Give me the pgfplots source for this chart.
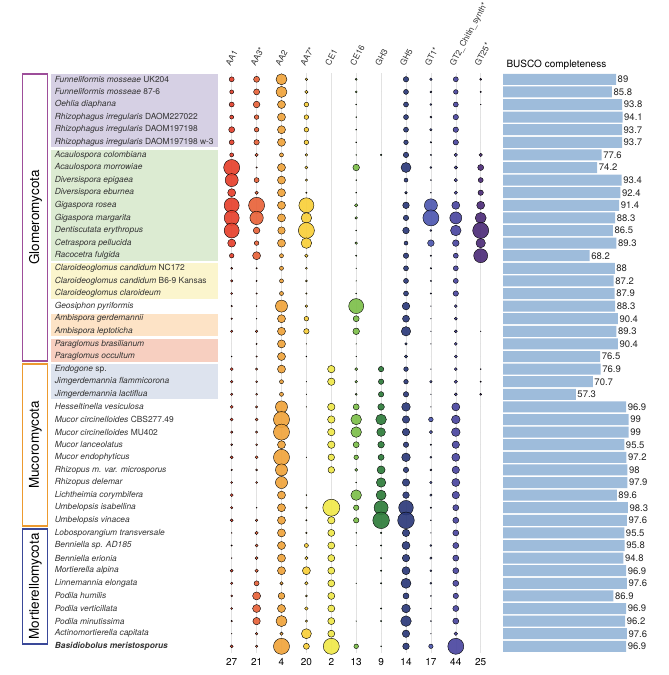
\documentclass[border=0pt]{standalone}
\usepackage{fontspec}
\setmainfont{TeX Gyre Heros}
\usepackage{pgfplots}
\pgfplotsset{compat=1.18}
\usepackage{pgfplotstable}

\definecolor{cA}{HTML}{E6412D}
\definecolor{cB}{HTML}{E8633A}
\definecolor{cC}{HTML}{F0A43C}
\definecolor{cD}{HTML}{F8CF3A}
\definecolor{cE}{HTML}{F0E84A}
\definecolor{cF}{HTML}{7DBF4A}
\definecolor{cG}{HTML}{2F7D3B}
\definecolor{cH}{HTML}{2C3A7A}
\definecolor{cI}{HTML}{4E58B0}
\definecolor{cJ}{HTML}{4B47A0}
\definecolor{cK}{HTML}{4D2C78}
\definecolor{bgpurple}{HTML}{D6D0E4}
\definecolor{bggreen}{HTML}{DCEBD2}
\definecolor{bgyellow}{HTML}{FBF5CD}
\definecolor{bgorange}{HTML}{FDE3C6}
\definecolor{bgsalmon}{HTML}{F7CFC0}
\definecolor{bgblue}{HTML}{DDE3EE}
\definecolor{phpurple}{HTML}{9D4E9A}
\definecolor{phorange}{HTML}{EC9A2F}
\definecolor{phnavy}{HTML}{3A4898}
\definecolor{buscoblue}{HTML}{9EBCDB}
\definecolor{namegray}{HTML}{333333}
\definecolor{gridgray}{HTML}{E2E2E2}

\pgfplotstableread{
row c1 c2 c3 c4 c5 c6 c7 c8 c9 c10 c11
1 2.5 3 5.5 1.3 0 1 0 2.7 1.3 2.5 1
2 2 3 5.5 1.7 0 1 0 2.5 1 2.3 0.7
3 2.5 3.3 4 2.3 0 0.5 0 2.5 1 2.5 0.4
4 2 2.3 4 2.3 0 0.5 0 2.5 1 2.7 0
5 3 2.3 4 2.3 0 0.5 0 2.5 1.2 2.7 0
6 2.5 2.7 4 2.3 0 0.5 0 2.3 0.8 2.7 0
7 2 1.7 2 1.3 0 0.4 0.8 2.7 0.7 1.7 1.7
8 8 0.7 4 1.5 0 3.3 0 5 1 1.7 3
9 6.5 2.5 4 1.2 0 0.5 0 2 0.5 1.7 2.5
10 4 1.7 4 0.7 0 0.5 0 1.3 0.5 1.7 2.7
11 7.5 8 4 7.5 0 1.7 0 3.3 6.5 4 4
12 7.5 6.7 4 5.3 0 1.3 0 2.7 8 6 5.5
13 7.5 3.3 3.7 8 0 0.5 0 3.3 1 5.3 8
14 4 2.3 4 5.3 0 1.3 0 2 3.3 3.3 4.7
15 2.3 4 2 1.7 0 0.7 0 2.7 0.7 2.5 7
16 1 0.7 2 1 0 0.3 0 2.5 0.8 2.5 0
17 1.2 0.7 2 1 0 0.3 0 2.5 0.7 2.5 0
18 1 0.7 2 0.8 0 0.5 0 2.5 0.7 2.7 0
19 0.8 0.5 6 1.3 0 7.5 0 3.8 0.3 1.5 0
20 0.8 0.4 4 2.3 0 3 0 3.5 0.3 1.5 0
21 1.2 1.3 4 2.7 0 3.3 0 4.7 0.3 1.5 0.3
22 0 0.7 4 0.3 0 0.3 0 1.3 0.3 1.5 0
23 0.5 0.7 4 0.5 0 0.3 0 1.7 0 1.5 0
24 1.5 1.2 4 0 3.7 1.5 2.7 2.3 0.3 1.5 0.5
25 1.3 1 2 0.3 3.7 1.3 2.7 2.3 1.3 1.7 0.7
26 1.2 1 2 0.3 0 1 2.7 2.7 0.3 1.5 1
27 1.5 1.2 6 0.3 3.7 3 3.3 4.3 0.3 4 0
28 1.5 1.5 8 0 3.7 5.3 5.3 3.7 2.3 4.3 0
29 1.2 1.2 8 0 3.7 5.3 4.3 3.7 1.7 4.3 0
30 1 1 4 0 3.7 3 3.3 2.7 0.7 3.7 0
31 1.5 1.5 8 0.3 3.3 2.3 3 4.3 1 4 0
32 0.8 1 6 0 3.3 1.5 4 2.7 1 3.7 0
33 1 1 6 0 0 0.5 4.7 3.7 1.2 4 0
34 1.5 0 4 0.5 0 5.3 5 3.3 1.2 3.7 0
35 1.2 0.5 4 0.8 8.5 2.7 7 7.3 0.7 3 0
36 1.5 1.3 4 0.7 3.7 2.7 8.3 8.3 0.5 3 0
37 0.4 1.7 4 0.8 3.5 0.5 0.8 3.7 0.3 3 0
38 0.7 1.5 4 2 3.5 0.3 0.7 4 1 3 0
39 0.4 1.5 4 1.7 3.5 0 0.7 3.7 1.2 3 0
40 1.5 1.7 4 4 3.5 0 0.7 4 1 3 0
41 1.2 2.5 1.7 1.7 3.5 0.3 0.7 5 1 3 0
42 1 4 3.3 1 3.5 0 0 3 0.5 2.7 0
43 1 4 4 1.7 3.5 0 0.7 4.3 0.5 3 0
44 0.8 3.7 5.5 1.2 3.5 0.3 0.7 5.3 0.5 3 0
45 0.3 1.3 1.7 5 3.5 0 0 3.7 0.3 1.8 0
46 1.5 1.2 8 3 8 2.3 0.5 3.3 2.2 8 0
}\dotdata

\pgfplotstableread{
row busco
1 89
2 85.8
3 93.8
4 94.1
5 93.7
6 93.7
7 77.6
8 74.2
9 93.4
10 92.4
11 91.4
12 88.3
13 86.5
14 89.3
15 68.2
16 88
17 87.2
18 87.9
19 88.3
20 90.4
21 89.3
22 90.4
23 76.5
24 76.9
25 70.7
26 57.3
27 96.9
28 99
29 99
30 95.5
31 97.2
32 98
33 97.9
34 89.6
35 98.3
36 97.6
37 95.5
38 95.8
39 94.8
40 96.9
41 97.6
42 86.9
43 96.9
44 96.2
45 97.6
46 96.9
}\buscodata

\newcommand{\dotcol}[3]{%
\addplot[scatter, only marks, mark=*,
  scatter/use mapped color={draw=none, fill=#3},
  fill opacity=0.92,
  visualization depends on={\thisrow{#2} \as \rr},
  scatter/@pre marker code/.append style={/tikz/mark size=\rr}]
  table[x expr=#1, y=row] {\dotdata};}

\newcommand{\hdr}[2]{\node[rotate=62, anchor=base west, xshift=-2.5pt, inner sep=0pt, font=\fontsize{8.4}{9}\selectfont, text=namegray] at (axis cs:#1,-0.2) {#2};}

\begin{document}
\begin{tikzpicture}
\useasboundingbox (0,0) rectangle (669pt,675pt);
% group backgrounds behind species names
\fill[bgpurple] (51pt,600.8pt) rectangle (218pt,527.6pt);
\fill[bggreen]  (51pt,525.2pt) rectangle (218pt,414.2pt);
\fill[bgyellow] (51pt,411.8pt) rectangle (218pt,376.4pt);
\fill[bgorange] (51pt,361.4pt) rectangle (218pt,338.6pt);
\fill[bgsalmon] (51pt,336.2pt) rectangle (218pt,313.4pt);
\fill[bgblue]   (51pt,311.0pt) rectangle (218pt,275.6pt);
% phylum boxes
\draw[phpurple, line width=1.5pt] (22.5pt,601pt) rectangle (47.5pt,314pt);
\draw[phorange, line width=1.5pt] (22.5pt,311pt) rectangle (47.5pt,149pt);
\draw[phnavy,   line width=1.5pt] (22.5pt,146pt) rectangle (47.5pt,31pt);
\node[rotate=90, font=\fontsize{13.5}{14}\selectfont] at (35.5pt,457.5pt) {Glomeromycota};
\node[rotate=90, font=\fontsize{13.5}{14}\selectfont] at (35.5pt,230pt) {Mucoromycota};
\node[rotate=90, font=\fontsize{13.5}{14}\selectfont] at (35.5pt,88.5pt) {Mortierellomycota};

\begin{axis}[
  scale only axis, width=273.9pt, height=579.6pt,
  at={(219.25pt,22.4pt)}, anchor=south west,
  xmin=0.5, xmax=11.5, ymin=0.5, ymax=46.5, y dir=reverse,
  axis line style={draw=none}, major tick length=0pt,
  xtick={1,...,11}, xticklabels={27,21,4,20,2,13,9,14,17,44,25},
  xticklabel style={font=\fontsize{10}{12}\selectfont, yshift=-2pt},
  ytick={1,...,46},
  yticklabels={
    {\textit{Funneliformis mosseae} UK204},
    {\textit{Funneliformis mosseae} 87-6},
    {\textit{Oehlia diaphana}},
    {\textit{Rhizophagus irregularis} DAOM227022},
    {\textit{Rhizophagus irregularis} DAOM197198},
    {\textit{Rhizophagus irregularis} DAOM197198 w-3},
    {\textit{Acaulospora colombiana}},
    {\textit{Acaulospora morrowiae}},
    {\textit{Diversispora epigaea}},
    {\textit{Diversispora eburnea}},
    {\textit{Gigaspora rosea}},
    {\textit{Gigaspora margarita}},
    {\textit{Dentiscutata erythropus}},
    {\textit{Cetraspora pellucida}},
    {\textit{Racocetra fulgida}},
    {\textit{Claroideoglomus candidum} NC172},
    {\textit{Claroideoglomus candidum} B6-9 Kansas},
    {\textit{Claroideoglomus claroideum}},
    {\textit{Geosiphon pyriformis}},
    {\textit{Ambispora gerdemannii}},
    {\textit{Ambispora leptoticha}},
    {\textit{Paraglomus brasilianum}},
    {\textit{Paraglomus occultum}},
    {\textit{Endogone} sp.},
    {\textit{Jimgerdemannia flammicorona}},
    {\textit{Jimgerdemannia lactiflua}},
    {\textit{Hesseltinella vesiculosa}},
    {\textit{Mucor circinelloides} CBS277.49},
    {\textit{Mucor circinelloides} MU402},
    {\textit{Mucor lanceolatus}},
    {\textit{Mucor endophyticus}},
    {\textit{Rhizopus m. var. microsporus}},
    {\textit{Rhizopus delemar}},
    {\textit{Lichtheimia corymbifera}},
    {\textit{Umbelopsis isabellina}},
    {\textit{Umbelopsis vinacea}},
    {\textit{Lobosporangium transversale}},
    {\textit{Benniella sp. AD185}},
    {\textit{Benniella erionia}},
    {\textit{Mortierella alpina}},
    {\textit{Linnemannia elongata}},
    {\textit{Podila humilis}},
    {\textit{Podila verticillata}},
    {\textit{Podila minutissima}},
    {\textit{Actinomortierella capitata}},
    {\textbf{\textit{Basidiobolus meristosporus}}}
  },
  yticklabel style={anchor=west, xshift=-168pt, font=\fontsize{8.4}{10}\selectfont, text=namegray},
  xmajorgrids, grid style={draw=gridgray, line width=0.6pt},
  clip=false,
]
\dotcol{1}{c1}{cA}
\dotcol{2}{c2}{cB}
\dotcol{3}{c3}{cC}
\dotcol{4}{c4}{cD}
\dotcol{5}{c5}{cE}
\dotcol{6}{c6}{cF}
\dotcol{7}{c7}{cG}
\dotcol{8}{c8}{cH}
\dotcol{9}{c9}{cI}
\dotcol{10}{c10}{cJ}
\dotcol{11}{c11}{cK}
\hdr{1}{AA1}
\hdr{2}{AA3*}
\hdr{3}{AA2}
\hdr{4}{AA7*}
\hdr{5}{CE1}
\hdr{6}{CE16}
\hdr{7}{GH3}
\hdr{8}{GH5}
\hdr{9}{GT1*}
\hdr{10}{GT2\_Chitin\_synth*}
\hdr{11}{GT25*}
\end{axis}

\begin{axis}[
  scale only axis, width=165.1pt, height=579.6pt,
  at={(503pt,22.4pt)}, anchor=south west,
  xmin=0, xmax=130, ymin=0.5, ymax=46.5, y dir=reverse,
  hide axis, xbar, bar width=11pt,
  nodes near coords={\pgfmathprintnumber[assume math mode=true]{\pgfplotspointmeta}},
  nodes near coords align={horizontal},
  every node near coord/.append style={font=\fontsize{9.5}{10}\selectfont, text=black!85, inner sep=1.5pt},
  clip=false,
]
\addplot[fill=buscoblue, draw=none, point meta=x] table[x=busco, y=row] {\buscodata};
\end{axis}
\node[anchor=base west, font=\fontsize{10}{12}\selectfont] at (503pt,607.5pt) {BUSCO completeness};
\end{tikzpicture}
\end{document}
